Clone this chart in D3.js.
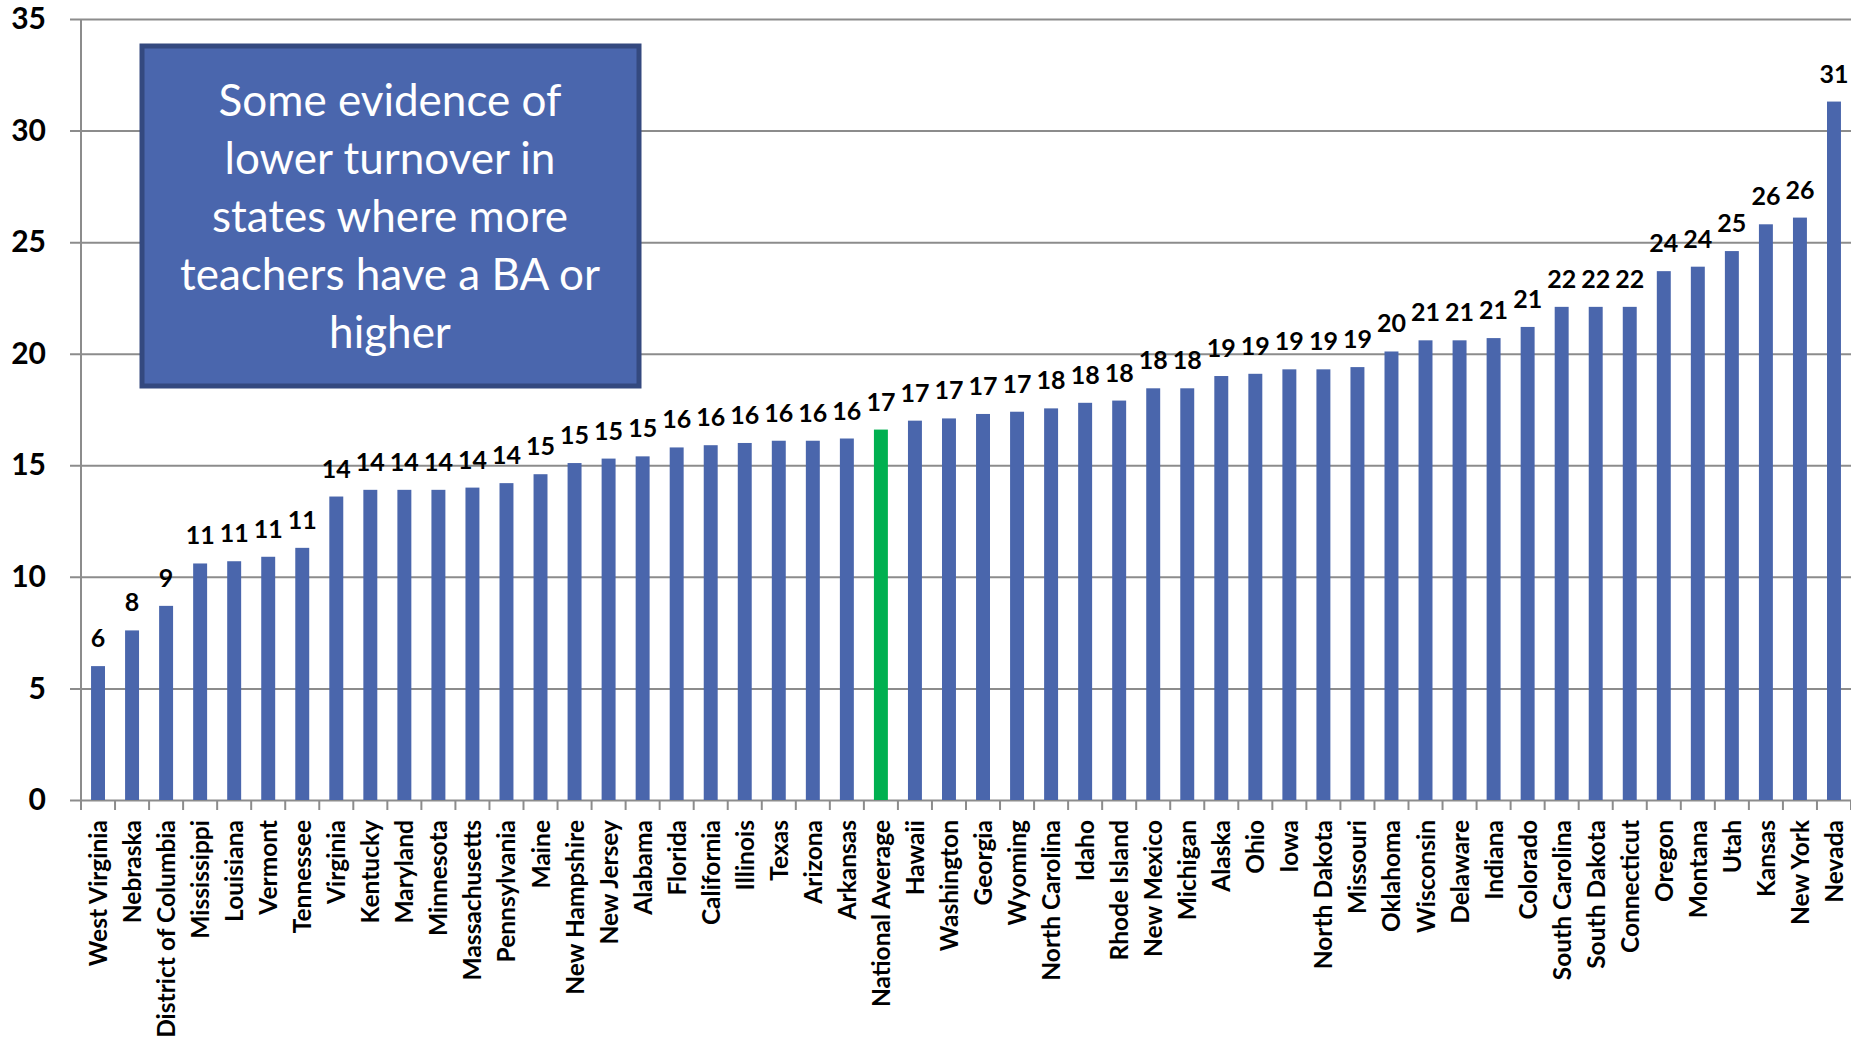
<!DOCTYPE html>
<html lang="en">
<head>
<meta charset="UTF-8">
<title>Teacher turnover by state</title>
<script src="https://d3js.org/d3.v7.min.js"></script>
<style>
    body{ margin:0; background:#fff; }
    svg text{ font-family: Lato, "Open Sans", sans-serif; }
</style>
</head>
<body>
<svg id="canvas" width="1851" height="1040"></svg>
<script>
    // states, sorted from lowest to highest
    const states = ["West Virginia","Nebraska","District of Columbia","Mississippi","Louisiana","Vermont",
        "Tennessee","Virginia","Kentucky","Maryland","Minnesota","Massachusetts","Pennsylvania","Maine",
        "New Hampshire","New Jersey","Alabama","Florida","California","Illinois","Texas","Arizona","Arkansas",
        "National Average","Hawaii","Washington","Georgia","Wyoming","North Carolina","Idaho","Rhode Island",
        "New Mexico","Michigan","Alaska","Ohio","Iowa","North Dakota","Missouri","Oklahoma","Wisconsin",
        "Delaware","Indiana","Colorado","South Carolina","South Dakota","Connecticut","Oregon","Montana",
        "Utah","Kansas","New York","Nevada"];
    const values = [6.0,7.6,8.7,10.6,10.7,10.9,11.3,13.6,13.9,13.9,13.9,14.0,14.2,14.6,15.1,15.3,15.4,
        15.8,15.9,16.0,16.1,16.1,16.2,16.6,17.0,17.1,17.3,17.4,17.55,17.8,17.9,18.45,18.45,19.0,19.1,19.3,
        19.3,19.4,20.1,20.6,20.6,20.7,21.2,22.1,22.1,22.1,23.7,23.9,24.6,25.8,26.1,31.3];
    const yTicks = [0,5,10,15,20,25,30,35];
    const highlight = "National Average";
    const noteLines = ["Some evidence of","lower turnover in","states where more","teachers have a BA or","higher"];

    const barColor = "#4a66ac";
    const avgColor = "#00b050";
    const gridColor = "#8c8c8c";

    const svg = d3.select("#canvas");
    const mLeft = 81, mRight = 1851, mTop = 19, mBottom = 800;

    const x = d3.scaleBand().domain(states).range([mLeft, mRight]).paddingInner(0.59).paddingOuter(0.295);
    const y = d3.scaleLinear().domain([0, 35]).range([mBottom, mTop]);

    // gridlines + y labels
    const yAxis = svg.append("g")
        .attr("transform", `translate(${mLeft},0)`)
        .call(d3.axisLeft(y).tickValues(yTicks).tickSize(-(mRight - mLeft)).tickSizeOuter(0).tickPadding(35));
    yAxis.select(".domain").remove();
    yAxis.selectAll(".tick line")
        .attr("x1", -11)
        .attr("stroke", gridColor).attr("stroke-width", 2);
    yAxis.selectAll(".tick text")
        .attr("font-size", 30).attr("font-weight", "bold").attr("fill", "#000")
        .attr("font-family", "Lato, sans-serif");

    // vertical axis line
    svg.append("line")
        .attr("x1", mLeft).attr("x2", mLeft).attr("y1", mTop).attr("y2", mBottom + 10)
        .attr("stroke", gridColor).attr("stroke-width", 2);

    // x ticks between categories
    const step = x.step();
    svg.append("g").selectAll("line")
        .data(states)
        .join("line")
        .attr("x1", d => x(d) - x.paddingOuter() * step + step)
        .attr("x2", d => x(d) - x.paddingOuter() * step + step)
        .attr("y1", mBottom).attr("y2", mBottom + 10)
        .attr("stroke", gridColor).attr("stroke-width", 2);

    const data = states.map((s, i) => ({state: s, value: values[i]}));

    // bars
    svg.append("g").selectAll("rect")
        .data(data)
        .join("rect")
        .attr("x", d => x(d.state))
        .attr("width", x.bandwidth())
        .attr("y", d => y(d.value))
        .attr("height", d => y(0) - y(d.value))
        .attr("fill", d => d.state === highlight ? avgColor : barColor);

    // value labels
    svg.append("g").selectAll("text")
        .data(data)
        .join("text")
        .attr("x", d => x(d.state) + x.bandwidth() / 2)
        .attr("y", d => y(d.value) - 19)
        .attr("text-anchor", "middle")
        .attr("font-size", 25).attr("font-weight", "bold")
        .text(d => Math.round(d.value));

    // category labels
    svg.append("g").selectAll("text")
        .data(states)
        .join("text")
        .attr("transform", d => `translate(${x(d) + x.bandwidth() / 2 + 9},820) rotate(-90)`)
        .attr("text-anchor", "end")
        .attr("font-size", 24.5).attr("font-weight", "bold")
        .text(d => d);

    // note box
    const note = svg.append("g");
    note.append("rect")
        .attr("x", 142).attr("y", 46).attr("width", 497).attr("height", 340)
        .attr("fill", "#4a66ad").attr("stroke", "#34497f").attr("stroke-width", 5);
    note.selectAll("text")
        .data(noteLines)
        .join("text")
        .attr("x", 390)
        .attr("y", (d, i) => 116 + i * 58)
        .attr("text-anchor", "middle")
        .attr("fill", "#fff")
        .attr("font-size", 44)
        .text(d => d);
</script>
</body>
</html>
